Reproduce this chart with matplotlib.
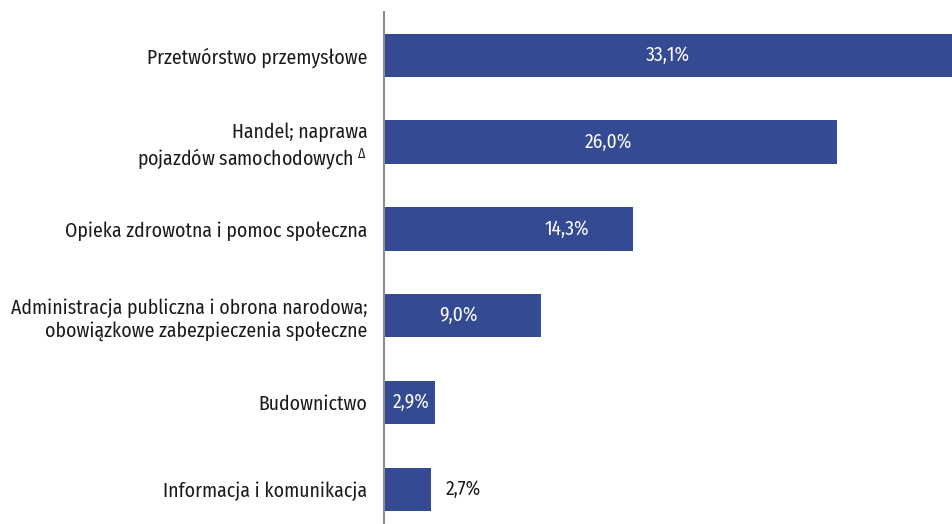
import matplotlib
matplotlib.use("Agg")
import matplotlib.pyplot as plt

# dane
sekcje = [
    "Przetwórstwo przemysłowe",
    "Handel; naprawa\npojazdów samochodowych $^{\\Delta}$",
    "Opieka zdrowotna i pomoc społeczna",
    "Administracja publiczna i obrona narodowa;\nobowiązkowe zabezpieczenia społeczne",
    "Budownictwo",
    "Informacja i komunikacja",
]
udzialy = [33.1, 26.0, 14.3, 9.0, 2.9, 2.7]
etykiety = ["33,1%", "26,0%", "14,3%", "9,0%", "2,9%", "2,7%"]
# gdzie stoją podpisy wartości (w jednostkach osi) i czy są w środku słupka
etykiety_x = [16.3, 12.9, 10.5, 4.3, 1.55, 4.55]
w_srodku = [True, True, True, True, True, False]

font = "Fira Sans Condensed"
plt.rcParams["font.family"] = [font, "DejaVu Sans"]
plt.rcParams["mathtext.fontset"] = "custom"
plt.rcParams["mathtext.rm"] = font

kolor = "#344a92"
tekst = "#1a1a1a"

fig = plt.figure(figsize=(9.52, 5.24), dpi=100)
ax = fig.add_axes([384 / 952, 0.0, 1 - 384 / 952, 1 - 12 / 524])

y = range(len(sekcje))
ax.barh(y, udzialy, height=0.5, color=kolor)

for i, (lx, lab, inside) in enumerate(zip(etykiety_x, etykiety, w_srodku)):
    ax.text(lx, i, lab, ha="center", va="center", fontsize=14,
            color="white" if inside else tekst)

ax.set_xlim(0, 568 / 17.42)
ax.set_ylim(5.4, -0.5)
ax.set_yticks(list(y))
ax.set_yticklabels(sekcje, fontsize=14.2, color=tekst)
ax.tick_params(axis="y", length=0, pad=12)
ax.set_xticks([])

for s in ["top", "right", "bottom"]:
    ax.spines[s].set_visible(False)
ax.spines["left"].set_color("#8c8c8c")
ax.spines["left"].set_linewidth(1.5)

fig.savefig("out.png", dpi=100)
